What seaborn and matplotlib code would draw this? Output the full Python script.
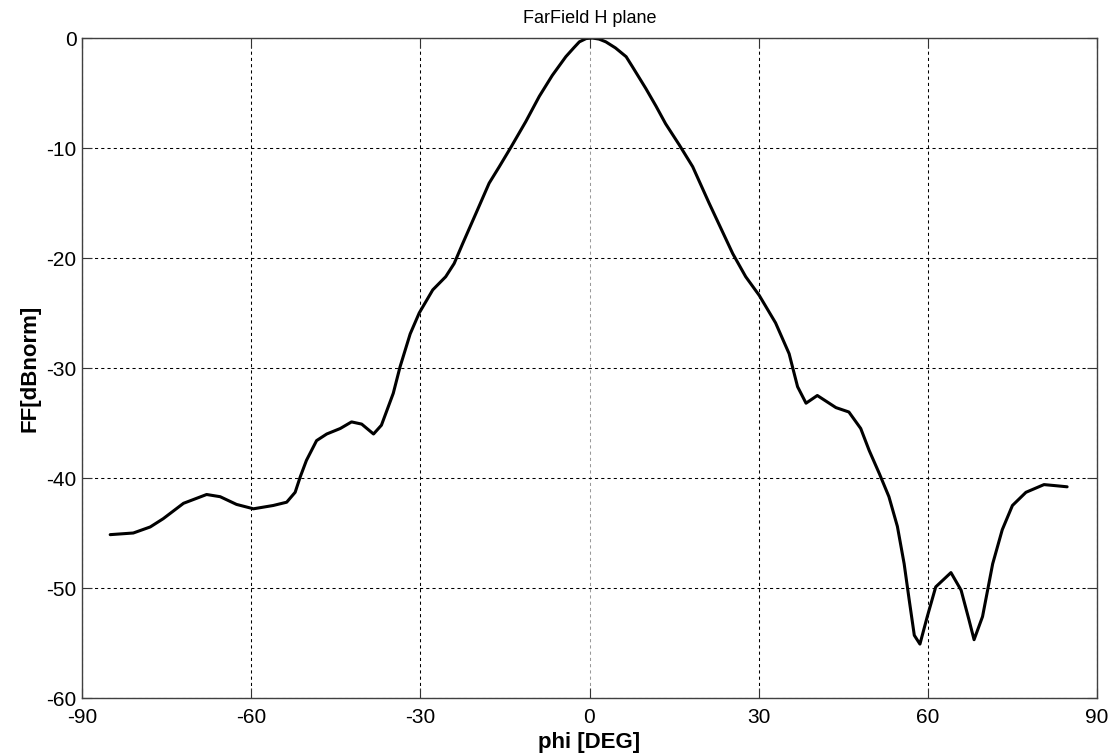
import matplotlib
matplotlib.use("Agg")
import matplotlib.pyplot as plt
import seaborn as sns
import pandas as pd

phi = [-85.0, -80.9, -77.9, -75.6, -72.0, -67.9, -65.5, -62.6, -59.6, -56.1,
       -53.7, -52.2, -51.3, -50.2, -48.4, -46.6, -44.2, -42.2, -40.4, -38.3,
       -36.9, -34.8, -33.6, -31.8, -30.2, -27.8, -25.5, -24.0, -22.5, -20.1,
       -17.8, -16.0, -13.9, -11.3, -8.9, -6.6, -4.2, -2.8, -1.8, -0.6, 0.5, 1.7, 2.9,
       4.6, 6.5, 7.6, 10.0, 11.8, 13.5, 15.9, 18.3, 21.2, 25.4, 27.7,
       30.1, 33.0, 35.4, 36.9, 38.4, 40.4, 43.7, 46.0, 48.1, 49.6,
       51.4, 53.1, 54.6, 55.8, 56.7, 57.6, 58.6, 59.9, 61.4, 64.1,
       65.9, 67.3, 68.2, 69.7, 71.5, 73.2, 75.0, 77.4, 80.6, 82.7, 84.7]
ff = [-45.15, -45.0, -44.45, -43.7, -42.3, -41.5, -41.7, -42.4, -42.8, -42.5,
      -42.2, -41.3, -39.9, -38.4, -36.6, -36.0, -35.5, -34.9, -35.1, -36.0,
      -35.2, -32.3, -29.9, -26.9, -25.0, -22.9, -21.7, -20.5, -18.7, -15.9,
      -13.2, -11.7, -9.9, -7.6, -5.3, -3.4, -1.7, -0.9, -0.35, -0.05, 0.0, -0.1, -0.35,
      -0.9, -1.7, -2.6, -4.6, -6.2, -7.8, -9.7, -11.7, -15.0, -19.6, -21.7,
      -23.4, -25.9, -28.7, -31.7, -33.2, -32.5, -33.6, -34.0, -35.5, -37.5,
      -39.6, -41.7, -44.4, -47.8, -51.1, -54.3, -55.1, -52.6, -49.9, -48.6,
      -50.2, -52.9, -54.7, -52.6, -47.8, -44.7, -42.5, -41.3, -40.6, -40.7, -40.8]

x_ticks = [-90, -60, -30, 0, 30, 60, 90]
y_ticks = [-60, -50, -40, -30, -20, -10, 0]
title = "FarField H plane"
xlabel = "phi [DEG]"
ylabel = "FF[dBnorm]"

sns.set_style("white")
plt.rcParams['font.family'] = ['Liberation Sans', 'DejaVu Sans']
plt.rcParams['text.color'] = 'black'
plt.rcParams['axes.labelcolor'] = 'black'
plt.rcParams['xtick.color'] = 'black'
plt.rcParams['ytick.color'] = 'black'

df = pd.DataFrame({"phi": phi, "ff": ff})

fig = plt.figure(figsize=(11.17, 7.56), dpi=100)
ax = fig.add_axes([82/1117, 1 - 698/756, (1097 - 82)/1117, (698 - 38)/756])

sns.lineplot(data=df, x="phi", y="ff", ax=ax, color="black", linewidth=2.2,
             sort=False, estimator=None)

ax.set_xlim(-90, 90)
ax.set_ylim(-60, 0)
ax.set_xticks(x_ticks)
ax.set_yticks(y_ticks)
ax.set_xticklabels([str(v) for v in x_ticks], fontsize=15)
ax.set_yticklabels([str(v) for v in y_ticks], fontsize=15)

ax.grid(True, color="black", linestyle=(0, (3, 3)), linewidth=0.75)
for gl, v in zip(ax.get_xgridlines(), x_ticks):
    if v == 0:
        gl.set_color("#999999")

ax.tick_params(axis="both", which="both", direction="in", length=7, width=0.8,
               top=True, right=True, bottom=True, left=True, color="#333333",
               labelcolor="black")
ax.tick_params(axis="x", pad=7)
ax.tick_params(axis="y", pad=4)

for s in ax.spines.values():
    s.set_visible(True)
    s.set_color("#404040")
    s.set_linewidth(1.0)

ax.set_title(title, fontsize=13, pad=11, color="black")
ax.set_xlabel(xlabel, fontsize=16, fontweight="bold", labelpad=4, color="black")
ax.set_ylabel(ylabel, fontsize=16, fontweight="bold", labelpad=4, color="black")

fig.savefig("out.png", dpi=100)
